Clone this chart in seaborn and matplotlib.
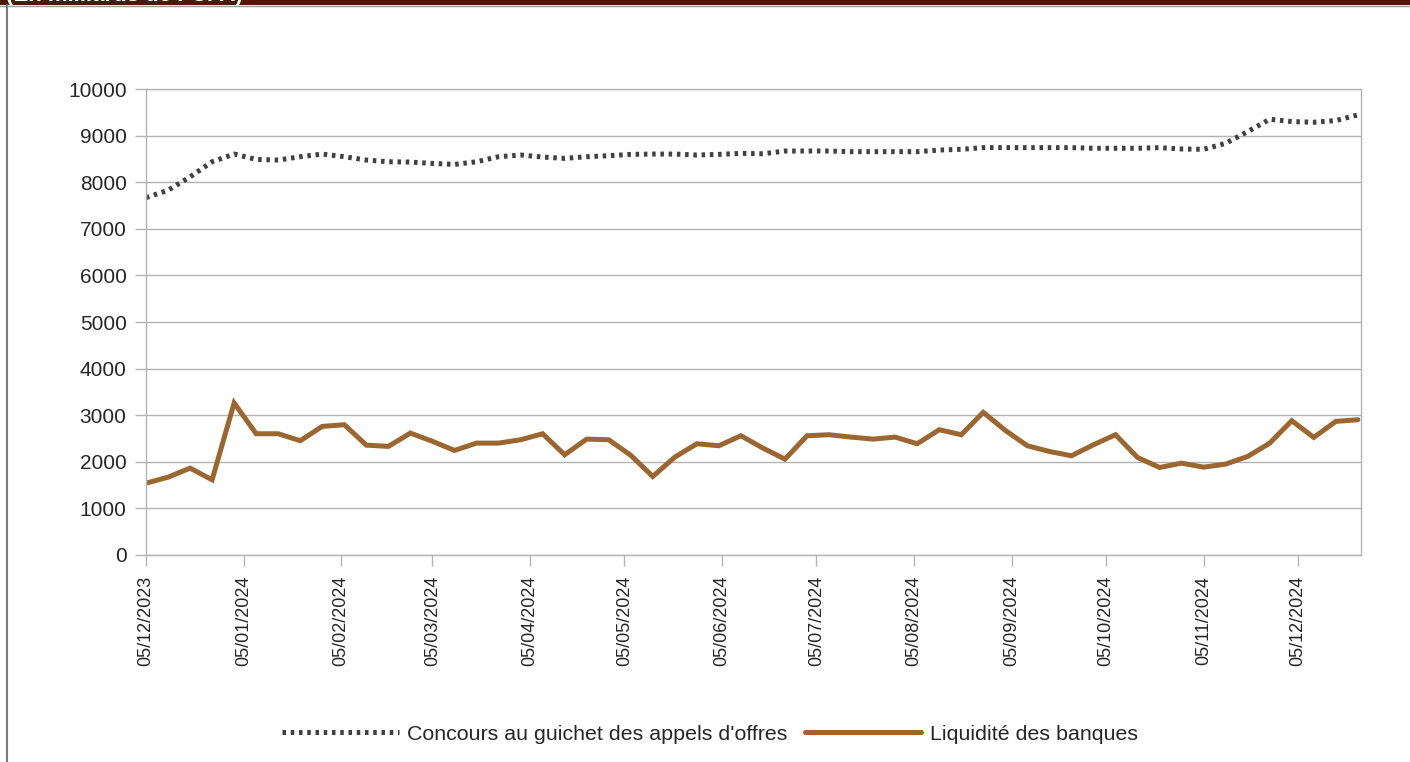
import numpy as np
import pandas as pd
import matplotlib
matplotlib.use("Agg")
import matplotlib.pyplot as plt
import matplotlib.dates as mdates
import seaborn as sns

# ---------------- data ----------------
dates = pd.date_range("2023-12-05", periods=56, freq="7D")

concours = [7669, 7827, 8115, 8439, 8604, 8489, 8475, 8547, 8604, 8547,
            8475, 8439, 8432, 8403, 8381, 8439, 8547, 8583, 8540, 8511,
            8547, 8568, 8597, 8604, 8604, 8583, 8597, 8619, 8610, 8669,
            8669, 8669, 8655, 8655, 8655, 8655, 8690, 8706, 8742, 8742,
            8742, 8742, 8742, 8728, 8728, 8728, 8742, 8713, 8706, 8835,
            9086, 9351, 9301, 9287, 9323, 9444]

liquidite = [1541, 1670, 1864, 1613, 3262, 2602, 2602, 2452, 2760, 2796,
             2358, 2330, 2616, 2440, 2244, 2401, 2401, 2473, 2602, 2151,
             2487, 2473, 2140, 1685, 2100, 2387, 2344, 2559, 2294, 2057,
             2559, 2581, 2530, 2487, 2530, 2387, 2688, 2581, 3061, 2674,
             2344, 2222, 2129, 2365, 2581, 2093, 1878, 1971, 1885, 1950,
             2115, 2401, 2882, 2523, 2867, 2903]

series_names = ["Concours au guichet des appels d'offres", "Liquidité des banques"]
title_text = "(En milliards de FCFA)"

df = pd.concat([
    pd.DataFrame({"date": dates, "valeur": concours, "serie": series_names[0]}),
    pd.DataFrame({"date": dates, "valeur": liquidite, "serie": series_names[1]}),
])

# ---------------- style ----------------
sns.set_style("white")
plt.rcParams["font.family"] = ["Liberation Sans", "DejaVu Sans"]

GRAY = "#b3b3b3"
colors = {series_names[0]: "#404040", series_names[1]: "#9c6631"}
LW = 3.6
DOTS = (0, (0.7, 0.95))

fig = plt.figure(figsize=(14.1, 7.62), dpi=100)

# top dark band with cut-off title
band = fig.add_axes([0, 1 - 5 / 762, 1, 5 / 762])
band.set_facecolor("#4c1a00")
band.set_xlim(0, 1410)
band.set_ylim(0, 5)
band.set_xticks([])
band.set_yticks([])
for s in band.spines.values():
    s.set_visible(False)
band.text(6, -1.5, title_text, color="white", fontsize=16, fontweight="bold",
          va="bottom", ha="left", clip_on=True)
fig.add_artist(plt.Line2D([0, 1], [1 - 5.5 / 762, 1 - 5.5 / 762],
                          transform=fig.transFigure, color="#9a9a9a", lw=1))
# left frame line
fig.add_artist(plt.Line2D([7 / 1410, 7 / 1410], [0, 1 - 5 / 762],
                          transform=fig.transFigure, color="#7a7a7a", lw=1.5))

ax = fig.add_axes([146 / 1410, 1 - 555 / 762, 1215 / 1410, 466 / 762])

sns.lineplot(data=df[df.serie == series_names[0]], x="date", y="valeur",
             ax=ax, color=colors[series_names[0]], lw=LW,
             label=series_names[0])
sns.lineplot(data=df[df.serie == series_names[1]], x="date", y="valeur",
             ax=ax, color=colors[series_names[1]], lw=LW,
             label=series_names[1])
ax.lines[0].set_linestyle(DOTS)
ax.lines[0].set_dash_capstyle("butt")
ax.lines[1].set_solid_joinstyle("miter")

ax.set_ylim(0, 10000)
ax.set_yticks(np.arange(0, 10001, 1000))
ax.set_xlim(pd.Timestamp("2023-12-05"), pd.Timestamp("2024-12-25"))
ax.xaxis.set_major_locator(mdates.MonthLocator(bymonthday=5))
ax.xaxis.set_major_formatter(mdates.DateFormatter("%d/%m/%Y"))
plt.setp(ax.get_xticklabels(), rotation=90, ha="center", va="top")

ax.grid(axis="y", color=GRAY, lw=1)
ax.grid(axis="x", visible=False)
ax.set_axisbelow(True)
for s in ax.spines.values():
    s.set_color(GRAY)
    s.set_linewidth(1)
ax.tick_params(axis="y", which="major", length=8, width=1, color=GRAY,
               labelsize=15, pad=6, direction="out", left=True)
ax.tick_params(axis="x", which="major", length=8, width=1, color=GRAY,
               labelsize=13, pad=7, direction="out", bottom=True)
ax.set_xlabel("")
ax.set_ylabel("")

handles, labels = ax.get_legend_handles_labels()
ax.get_legend().remove() if ax.get_legend() else None
leg = fig.legend(handles, labels, loc="center",
                 bbox_to_anchor=(710 / 1410, 1 - 734 / 762),
                 ncol=2, frameon=False, fontsize=15.4, handlelength=5.45,
                 handletextpad=0.4, columnspacing=0.8)
for h in leg.get_lines():
    h.set_linewidth(LW)
leg.get_lines()[0].set_linestyle(DOTS)
leg.get_lines()[0].set_dash_capstyle("butt")

fig.savefig("out.png", dpi=100)
